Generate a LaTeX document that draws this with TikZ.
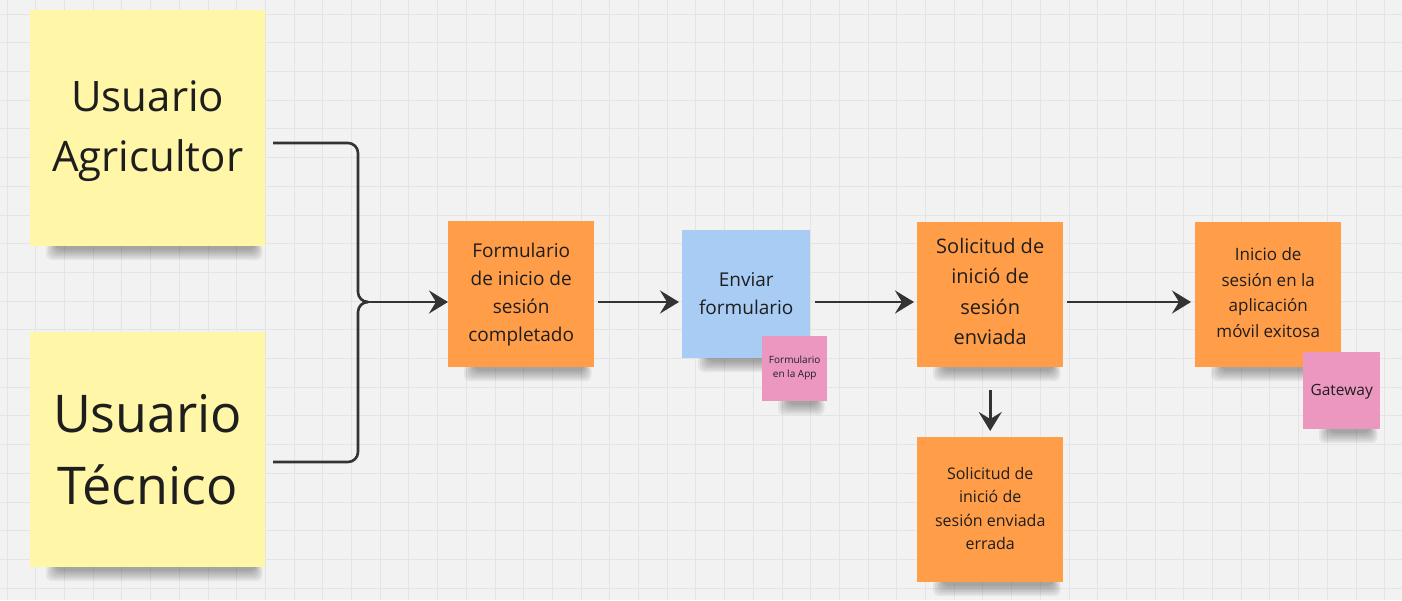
\documentclass[tikz,border=0pt]{standalone}
\usepackage{fontspec}
\setmainfont{Open Sans}
\usetikzlibrary{arrows.meta}
\definecolor{bgc}{HTML}{F2F2F2}
\definecolor{gridc}{HTML}{E4E4E4}
\definecolor{yel}{HTML}{FFF6A8}
\definecolor{org}{HTML}{FF9D48}
\definecolor{blu}{HTML}{A8CCF4}
\definecolor{pnk}{HTML}{EC97C0}
\definecolor{ink}{HTML}{1E1E1E}
\definecolor{linec}{HTML}{333333}
\tikzset{
  note/.style={inner sep=0pt, align=center, text=ink, anchor=north west},
  conn/.style={draw=linec, line width=2.6pt, -{Stealth[length=19pt,width=23pt,inset=7pt]}},
  joinline/.style={draw=linec, line width=2.6pt, rounded corners=10pt},
}
\newcommand{\shad}[3]{% x1 x2 ybottom
  \foreach \k in {0,...,5} {
    \fill[black,opacity=0.06, rounded corners=6pt] (#1+26-2*\k,#3-3) rectangle (#2-10+1.5*\k,#3+4+2*\k);
  }
}
\begin{document}
\begin{tikzpicture}[x=1pt,y=-1pt]
\fill[bgc] (0,0) rectangle (1402,600);
\useasboundingbox (0,0) rectangle (1402,600);
\foreach \i in {0,...,49} { \draw[gridc, line width=0.8pt] (7+28.7*\i,0) -- (7+28.7*\i,600); }
\foreach \j in {0,...,21} { \draw[gridc, line width=0.8pt] (0,14+28.7*\j) -- (1402,14+28.7*\j); }

% shadows
\shad{30}{265}{246}
\shad{30}{265}{567}
\shad{448}{594}{367}
\shad{682}{810}{358}
\shad{762}{827}{401}
\shad{917}{1063}{367}
\shad{1195}{1341}{367}
\shad{1303}{1380}{429}
\shad{917}{1063}{582}

% notes
\node[note, fill=yel, minimum width=235pt, minimum height=236pt] (ua) at (30,10) {};
\node[align=center, text=ink, font=\fontsize{42}{60}\selectfont] (uat) at ([yshift=-3pt]ua.center) {Usuario\\Agricultor};
\node[note, fill=yel, minimum width=235pt, minimum height=235pt] (ut) at (30,332) {};
\node[align=center, text=ink, font=\fontsize{52}{72}\selectfont] (utt) at (ut.center) {Usuario\\Técnico};

\node[note, fill=org, minimum width=146pt, minimum height=146pt] (fc) at (448,221) {};
\node[align=center, text=ink, font=\fontsize{19}{28}\selectfont] (fct) at (fc.center) {Formulario\\de inicio de\\sesión\\completado};

\node[note, fill=blu, minimum width=128pt, minimum height=128pt] (ef) at (682,230) {};
\node[align=center, text=ink, font=\fontsize{19}{28}\selectfont] (eft) at ([yshift=1pt]ef.center) {Enviar\\formulario};

\node[note, fill=pnk, minimum width=65pt, minimum height=65pt] (fa) at (762,336) {};
\node[align=center, text=ink, font=\fontsize{10}{14}\selectfont] (fat) at ([yshift=1pt]fa.center) {Formulario\\en la App};

\node[note, fill=org, minimum width=146pt, minimum height=145pt] (se) at (917,222) {};
\node[align=center, text=ink, font=\fontsize{20}{30.5}\selectfont] (set) at ([yshift=3pt]se.center) {Solicitud de\\inició de\\sesión\\enviada};

\node[note, fill=org, minimum width=146pt, minimum height=145pt] (ie) at (1195,222) {};
\node[align=center, text=ink, font=\fontsize{17}{25.5}\selectfont] (iet) at ([yshift=2pt]ie.center) {Inicio de\\sesión en la\\aplicación\\móvil exitosa};

\node[note, fill=pnk, minimum width=77pt, minimum height=77pt] (gw) at (1303,352) {};
\node[align=center, text=ink, font=\fontsize{15.5}{18}\selectfont] (gwt) at ([yshift=-1pt]gw.center) {Gateway};

\node[note, fill=org, minimum width=146pt, minimum height=145pt] (er) at (917,437) {};
\node[align=center, text=ink, font=\fontsize{16}{23.5}\selectfont] (ert) at ([yshift=1pt]er.center) {Solicitud de\\inició de\\sesión enviada\\errada};

% connectors
\coordinate (a1) at (273,143);
\coordinate (a2) at (273,462);
\coordinate (m) at (368,302);
\draw[joinline] (a1) -- (358,143) -- (358,302) -- (m);
\draw[joinline] (a2) -- (358,462) -- (358,302) -- (m);
\draw[conn] (m) -- (fc.west |- m);
\draw[conn] ([xshift=4pt]fc.east |- m) -- ([xshift=-3pt]ef.west |- m);
\draw[conn] ([xshift=5pt]ef.east |- m) -- ([xshift=-3pt]se.west |- m);
\draw[conn] ([xshift=4pt]se.east |- m) -- ([xshift=-4pt]ie.west |- m);
\coordinate (d1) at ([yshift=-23pt]se.south);
\draw[conn] (d1) -- ([yshift=6pt]er.north);
\end{tikzpicture}
\end{document}
